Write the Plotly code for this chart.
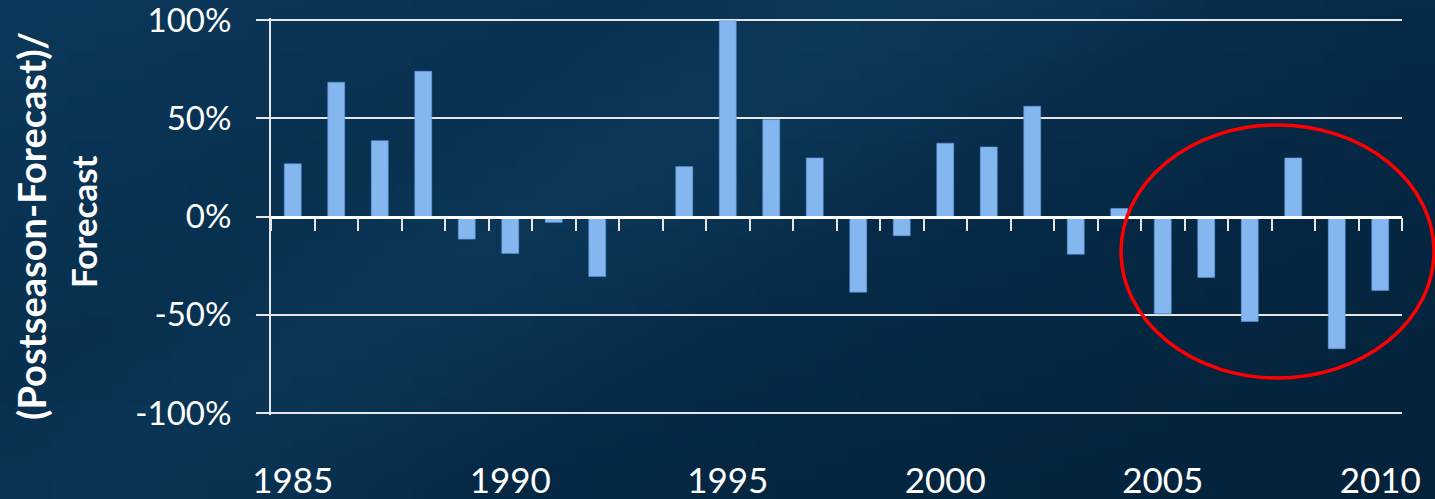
import base64
import struct
import zlib

import plotly.graph_objects as go

# ---------------- data ----------------
years = list(range(1985, 2011))
pct_diff = [
    0.268, 0.683, 0.386, 0.739, -0.115, -0.188, -0.030, -0.305, 0.0, 0.254,
    0.996, 0.493, 0.298, -0.385, -0.098, 0.373, 0.354, 0.561, -0.192, 0.041,
    -0.495, -0.310, -0.534, 0.298, -0.673, -0.376,
]
y_ticks = [-1.0, -0.5, 0.0, 0.5, 1.0]
y_tick_text = ["-100%", "-50%", "0%", "50%", "100%"]
x_label_years = [1985, 1990, 1995, 2000, 2005, 2010]
boundaries = [y - 0.5 for y in years] + [years[-1] + 0.5]
title_lines = ["(Postseason-Forecast)/", "Forecast"]

# ---------------- background gradient (style only) ----------------
def make_png(w, h, fn):
    raw = b""
    for j in range(h):
        row = b"\x00"
        for i in range(w):
            r, g, b = fn(i / (w - 1), j / (h - 1))
            row += bytes((r, g, b))
        raw += row

    def chunk(tag, data):
        c = struct.pack(">I", len(data)) + tag + data
        return c + struct.pack(">I", zlib.crc32(tag + data) & 0xFFFFFFFF)

    png = b"\x89PNG\r\n\x1a\n"
    png += chunk(b"IHDR", struct.pack(">IIBBBBB", w, h, 8, 2, 0, 0, 0))
    png += chunk(b"IDAT", zlib.compress(raw, 9))
    png += chunk(b"IEND", b"")
    return "data:image/png;base64," + base64.b64encode(png).decode()


def bg(u, v):
    tl, tr, bl, br = (11, 56, 90), (7, 42, 72), (7, 45, 75), (4, 34, 58)
    c = [
        tl[k] * (1 - u) * (1 - v) + tr[k] * u * (1 - v) + bl[k] * (1 - u) * v + br[k] * u * v
        for k in range(3)
    ]
    d = (u * 1.6 + v * 0.9) - 1.05
    boost = max(0.0, 1 - (d / 0.35) ** 2) * 9
    return tuple(int(max(0, min(255, c[k] + boost * (0.4, 0.9, 1.1)[k]))) for k in range(3))


bg_uri = make_png(96, 34, bg)

# ---------------- figure ----------------
W, H = 1435, 499
ML, MR, MT, MB = 271, 33, 18, 84
PW, PH = W - ML - MR, H - MT - MB
YR = 1.01

fig = go.Figure()
fig.add_trace(
    go.Bar(
        x=years,
        y=pct_diff,
        width=0.39,
        marker=dict(color="#84b7f0", line=dict(color="#5d95d6", width=0.6)),
        showlegend=False,
        hoverinfo="x+y",
    )
)

axis_white = "#e6e6e6"
font_family = "Lato, 'Open Sans', sans-serif"


def px_x(p):
    return (p - ML) / PW


def px_y(p):
    return (H - MB - p) / PH


annotations = []
for text, cx, cy, fs in zip(title_lines, [31, 83], [226, 222], [38, 35]):
    annotations.append(
        dict(
            text="<b>" + text + "</b>",
            xref="paper",
            yref="paper",
            x=px_x(cx),
            y=px_y(cy),
            xanchor="center",
            yanchor="middle",
            textangle=-90,
            showarrow=False,
            font=dict(size=fs, color="white", family=font_family),
        )
    )

fig.update_layout(
    width=W,
    height=H,
    autosize=False,
    margin=dict(l=ML, r=MR, t=MT, b=MB, pad=0, autoexpand=False),
    paper_bgcolor="#0a3658",
    plot_bgcolor="rgba(0,0,0,0)",
    font=dict(family=font_family, color="white"),
    bargap=0.6,
    images=[
        dict(
            source=bg_uri,
            xref="paper",
            yref="paper",
            x=px_x(0),
            y=px_y(0),
            sizex=W / PW,
            sizey=H / PH,
            sizing="stretch",
            layer="below",
            xanchor="left",
            yanchor="top",
        )
    ],
    xaxis=dict(
        range=[1984.5, 2010.5],
        tickvals=x_label_years,
        ticktext=[str(y) for y in x_label_years],
        tickfont=dict(size=35, color="white", family=font_family),
        ticks="",
        ticklabelstandoff=42,
        ticklabeloverflow="allow",
        automargin=False,
        showgrid=False,
        zeroline=False,
        showline=False,
        fixedrange=True,
    ),
    xaxis2=dict(
        overlaying="x",
        anchor="free",
        position=0.5,
        side="bottom",
        range=[1984.5, 2010.5],
        tickvals=boundaries,
        showticklabels=False,
        ticks="outside",
        ticklen=13,
        tickwidth=2,
        tickcolor=axis_white,
        showline=True,
        linecolor="white",
        linewidth=2.5,
        showgrid=False,
        zeroline=False,
        automargin=False,
        fixedrange=True,
    ),
    yaxis=dict(
        range=[-YR, YR],
        tickvals=y_ticks,
        ticktext=y_tick_text,
        tickfont=dict(size=33, color="white", family=font_family),
        ticks="outside",
        ticklen=13,
        tickwidth=2,
        tickcolor=axis_white,
        ticklabelstandoff=18,
        ticklabeloverflow="allow",
        automargin=False,
        showgrid=True,
        gridcolor=axis_white,
        gridwidth=2,
        showline=True,
        linecolor=axis_white,
        linewidth=2,
        zeroline=False,
        fixedrange=True,
    ),
    annotations=annotations,
    shapes=[
        dict(
            type="circle",
            xref="paper",
            yref="paper",
            x0=px_x(1121),
            x1=px_x(1434),
            y0=px_y(378),
            y1=px_y(125),
            line=dict(color="#ff0000", width=3.5),
            layer="above",
        )
    ],
)

fig.add_trace(go.Scatter(x=[], y=[], xaxis="x2", showlegend=False))

fig.write_html(
    "out.html",
    config={"displayModeBar": False, "responsive": False},
    post_script="document.body.style.margin='0px';document.body.style.overflow='hidden';",
)
